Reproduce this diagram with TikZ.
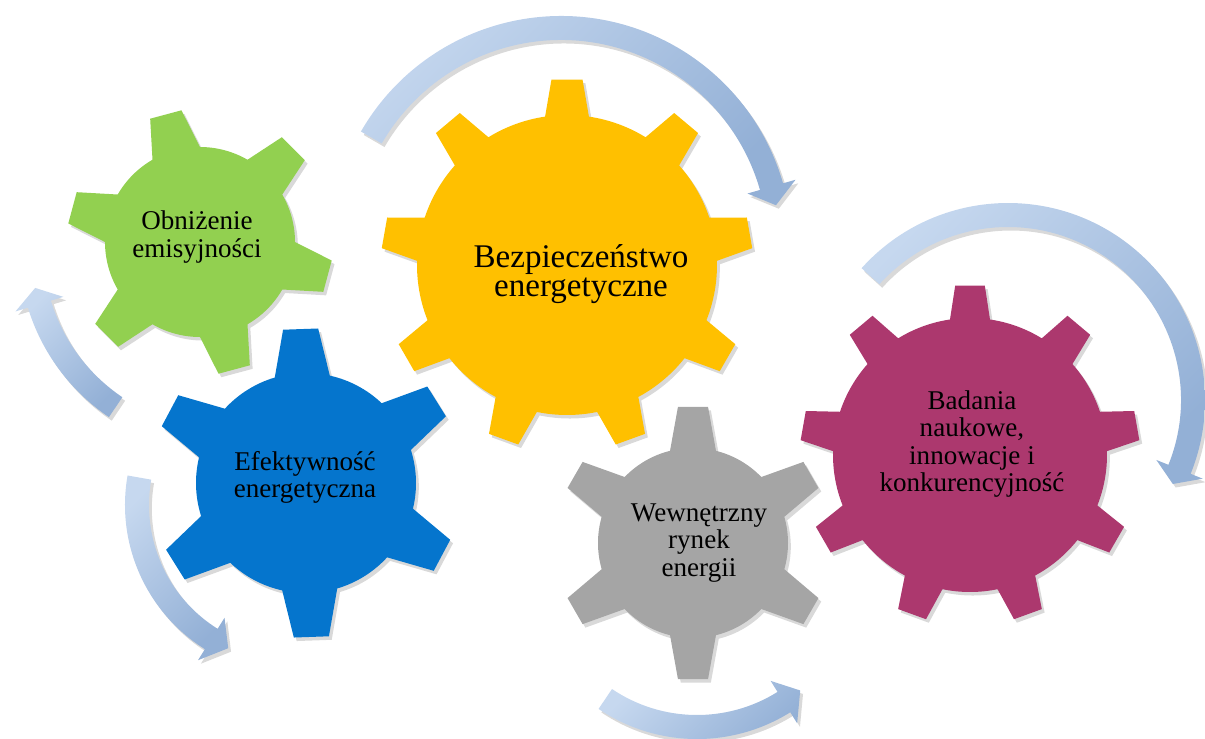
\documentclass[tikz,border=0pt]{standalone}
\usepackage{fontspec}
\setmainfont{Liberation Serif}
\usetikzlibrary{shadows}

\definecolor{gearGreen}{HTML}{92D050}
\definecolor{gearBlue}{HTML}{0575CD}
\definecolor{gearYellow}{HTML}{FFC000}
\definecolor{gearGray}{HTML}{A5A5A5}
\definecolor{gearPurple}{HTML}{AC386E}
\definecolor{arrowLight}{HTML}{C6D8EF}
\definecolor{arrowDark}{HTML}{93B0D6}

\tikzset{
	gearfill/.style={fill=#1, drop shadow={opacity=0.3, shadow xshift=0.8pt, shadow yshift=-1pt}},
	arrowband/.style={top color=arrowLight, bottom color=arrowDark, shading angle=45,
		drop shadow={opacity=0.3, shadow xshift=0.8pt, shadow yshift=-1pt}},
	gearlabel/.style={align=center, inner sep=0pt, text=black, font=\fontsize{7.7}{7.7}\selectfont}
}

% gear: centre, inner r, outer r, teeth, first tooth angle, half base angle, half tip angle, colour
\newcommand{\gearwheel}[8]{%
	\begin{scope}[shift={(#1)}]
		\pgfmathsetmacro\gstep{360/#4}
		\path[gearfill=#8] ({#5-#6}:#2)
		\foreach \i [evaluate=\i as \ang using #5+(\i-1)*\gstep] in {1,...,#4}
		{
			-- ({\ang-#7}:#3) -- ({\ang+#7}:#3) -- ({\ang+#6}:#2)
			arc[start angle={\ang+#6}, end angle={\ang+\gstep-#6}, radius=#2]
		} -- cycle;
	\end{scope}}

% curved arrow: centre, radius, start angle, end angle, tip angle
\newcommand{\cyclearrow}[5]{%
	\begin{scope}[shift={(#1)}]
		\path[arrowband] (#3:{#2+12}) arc[start angle=#3, end angle=#4, radius=#2+12]
		-- (#4:{#2+25}) -- (#5:#2) -- (#4:{#2-25}) -- (#4:{#2-12})
		arc[start angle=#4, end angle=#3, radius=#2-12] -- cycle;
	\end{scope}}

\begin{document}
\begin{tikzpicture}[x=0.01cm, y=0.01cm]
	\useasboundingbox (0,0) rectangle (1205,738);
	
	% arrows
	\cyclearrow{561,491}{219}{150}{16}{11}
	\cyclearrow{223,490}{192}{236}{197}{192}
	\cyclearrow{295,233}{158}{170}{238}{245}
	\cyclearrow{697,175}{164}{236}{302}{309}
	\cyclearrow{1008,338}{185}{138}{-22}{-27}
	
	% gears
	\gearwheel{200,496}{95}{133}{6}{105}{15}{7}{gearGreen}
	\gearwheel{306,255}{110}{155}{6}{92}{14.5}{6.5}{gearBlue}
	\gearwheel{567,473}{150}{186}{9}{90}{8.4}{4.8}{gearYellow}
	\gearwheel{693,195}{95}{137}{6}{90}{14}{6.3}{gearGray}
	\gearwheel{970,283}{137}{170}{9}{90}{8.4}{5}{gearPurple}
	
	\node[gearlabel] (emisja) at (197,501) {Obniżenie\\emisyjności};
	\node[gearlabel] (efektywnosc) at (305,261) {Efektywność\\energetyczna};
	\node[gearlabel, font=\fontsize{9.4}{8.2}\selectfont] (bezpieczenstwo) at (581,464) {Bezpieczeństwo\\energetyczne};
	\node[gearlabel] (rynek) at (699,195) {Wewnętrzny\\rynek\\energii};
	\node[gearlabel] (badania) at (972,294) {Badania\\naukowe,\\innowacje i\\konkurencyjność};
\end{tikzpicture}
\end{document}
